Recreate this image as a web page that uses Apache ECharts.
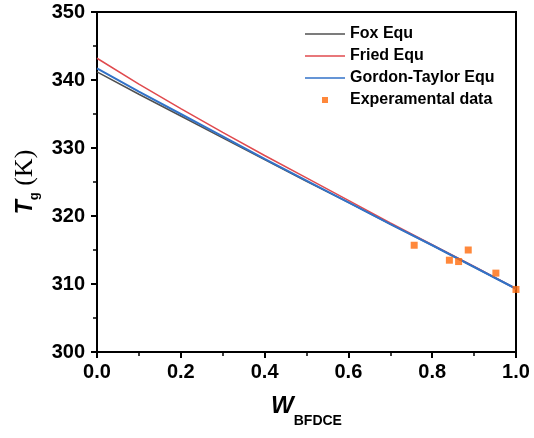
<!DOCTYPE html>
<html>
<head>
<meta charset="utf-8">
<script src="https://cdn.jsdelivr.net/npm/echarts@6/dist/echarts.min.js"></script>
<style>
  html, body { margin: 0; padding: 0; background: #fff; }
  #chart { width: 534px; height: 438px; }
</style>
</head>
<body>
<div id="chart"></div>
<script>
// mass fraction of BFDCE
const wValues = [0, 0.1, 0.2, 0.3, 0.4, 0.5, 0.6, 0.7, 0.8, 0.9, 1.0];
// Tg curves (K)
const foxEqu = [341.2, 337.9, 334.7, 331.5, 328.3, 325.1, 322.0, 318.8, 315.7, 312.5, 309.3];
const friedEqu = [343.2, 339.4, 335.8, 332.3, 328.9, 325.6, 322.3, 319.0, 315.8, 312.6, 309.3];
const gordonTaylorEqu = [341.7, 338.3, 335.0, 331.7, 328.4, 325.2, 322.0, 318.8, 315.7, 312.5, 309.3];
// experimental points
const expW = [0.757, 0.841, 0.863, 0.886, 0.952, 1.0];
const expTg = [315.7, 313.5, 313.3, 315.0, 311.6, 309.2];

const pair = (xs, ys) => xs.map((x, i) => [x, ys[i]]);

const chart = echarts.init(document.getElementById('chart'));

const ARIAL = 'Arial, "Liberation Sans"';
const tickFont = {
  color: '#000',
  fontFamily: ARIAL,
  fontWeight: 'bold',
  fontSize: 20
};

const lineIcon = 'path://M0,0H40V1.6H0Z';
const squareIcon = 'path://M0,0H6V6H0Z';

const option = {
  animation: false,
  grid: {
    left: 97,
    right: 18,
    top: 12,
    bottom: 86,
    show: true,
    borderColor: '#000',
    borderWidth: 2
  },
  legend: {
    orient: 'vertical',
    left: 300,
    top: 21,
    itemWidth: 40,
    itemHeight: 6,
    itemGap: 6,
    textStyle: {
      color: '#000',
      fontFamily: ARIAL,
      fontWeight: 'bold',
      fontSize: 16
    },
    data: [
      { name: 'Fox Equ', icon: lineIcon },
      { name: 'Fried Equ', icon: lineIcon },
      { name: 'Gordon-Taylor Equ', icon: lineIcon },
      { name: 'Experamental data', icon: squareIcon }
    ]
  },
  xAxis: {
    type: 'value',
    min: 0,
    max: 1,
    interval: 0.2,
    name: '{w|W}{sub|BFDCE}',
    nameLocation: 'middle',
    nameGap: 32,
    nameTextStyle: {
      rich: {
        w: { fontFamily: ARIAL, fontWeight: 'bold', fontStyle: 'italic', fontSize: 24, color: '#000' },
        sub: { fontFamily: ARIAL, fontWeight: 'bold', fontSize: 14, color: '#000', padding: [30, 0, 0, 0] }
      }
    },
    axisLine: { lineStyle: { color: '#000', width: 2 } },
    axisTick: { length: 6, lineStyle: { width: 2 } },
    minorTick: { show: true, splitNumber: 2, length: 4, lineStyle: { color: '#000', width: 1.5 } },
    splitLine: { show: false },
    axisLabel: Object.assign({ margin: 10, formatter: (v) => v.toFixed(1) }, tickFont)
  },
  yAxis: {
    type: 'value',
    min: 300,
    max: 350,
    interval: 10,
    name: '{t|T}{sub|g}{k| (K)}',
    nameLocation: 'middle',
    nameGap: 56,
    nameTextStyle: {
      rich: {
        t: { fontFamily: ARIAL, fontWeight: 'bold', fontStyle: 'italic', fontSize: 23, color: '#000' },
        sub: { fontFamily: ARIAL, fontWeight: 'bold', fontSize: 13, color: '#000', padding: [18, 0, 0, 0] },
        k: { fontFamily: '"Times New Roman", "Liberation Serif"', fontSize: 26, color: '#000' }
      }
    },
    axisLine: { show: true, lineStyle: { color: '#000', width: 2 } },
    axisTick: { length: 6, lineStyle: { width: 2 } },
    minorTick: { show: true, splitNumber: 2, length: 4, lineStyle: { color: '#000', width: 1.5 } },
    splitLine: { show: false },
    axisLabel: Object.assign({ margin: 12 }, tickFont)
  },
  series: [
    {
      name: 'Fox Equ',
      type: 'line',
      data: pair(wValues, foxEqu),
      symbol: 'none',
      color: '#505050',
      lineStyle: { width: 1.5, color: '#505050' },
      z: 2
    },
    {
      name: 'Fried Equ',
      type: 'line',
      data: pair(wValues, friedEqu),
      symbol: 'none',
      color: '#e04a4e',
      lineStyle: { width: 1.5, color: '#e04a4e' },
      z: 3
    },
    {
      name: 'Gordon-Taylor Equ',
      type: 'line',
      data: pair(wValues, gordonTaylorEqu),
      symbol: 'none',
      color: '#3272c8',
      lineStyle: { width: 2, color: '#3272c8' },
      z: 4
    },
    {
      name: 'Experamental data',
      type: 'scatter',
      data: pair(expW, expTg),
      symbol: 'rect',
      symbolSize: 7,
      itemStyle: { color: '#ff6a0a' },
      z: 5
    }
  ]
};

chart.setOption(option);
</script>
</body>
</html>
